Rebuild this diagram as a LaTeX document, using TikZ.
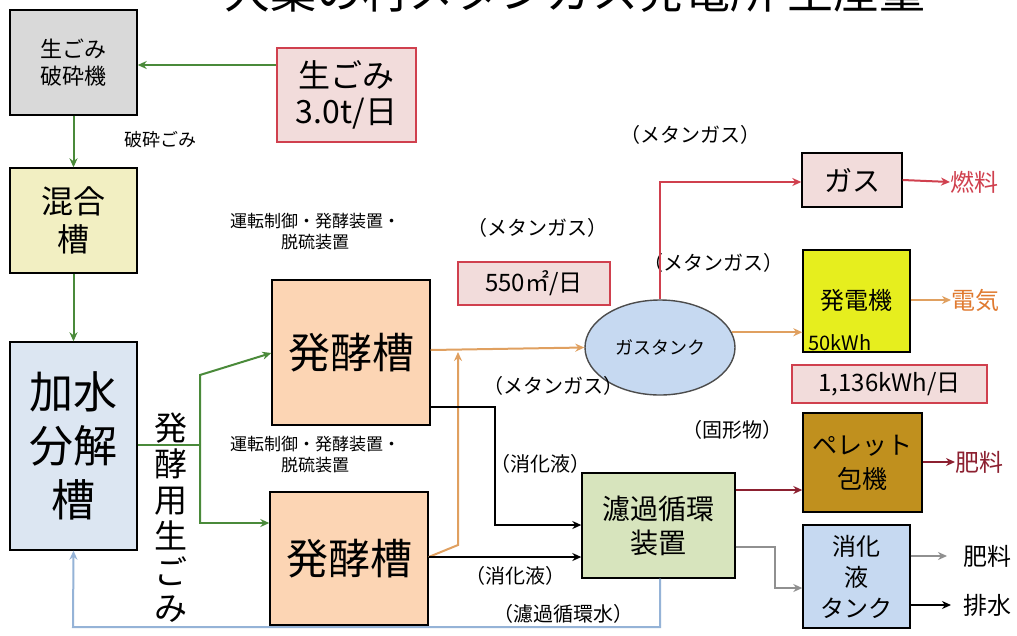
\documentclass[tikz,border=0pt]{standalone}
\usepackage{fontspec}
\setmainfont{Noto Sans CJK JP}
\usetikzlibrary{arrows.meta,shapes.geometric}
\definecolor{gline}{HTML}{4A8A3A}
\definecolor{boxgray}{HTML}{D9D9D9}
\definecolor{boxpink}{HTML}{F2DCDB}
\definecolor{redline}{HTML}{D0404E}
\definecolor{boxyel}{HTML}{F2EFC2}
\definecolor{boxblue}{HTML}{DCE6F2}
\definecolor{boxpeach}{HTML}{FCD5B4}
\definecolor{orline}{HTML}{E0A060}
\definecolor{tankblue}{HTML}{C6D9F1}
\definecolor{boxgreen}{HTML}{D7E4BD}
\definecolor{retline}{HTML}{95B3D7}
\definecolor{genyel}{HTML}{E6EE1E}
\definecolor{pelgold}{HTML}{C0901E}
\definecolor{darkred}{HTML}{8C2030}
\definecolor{grayline}{HTML}{909090}
\definecolor{orangetext}{HTML}{E07A30}
\tikzset{
  box/.style={draw=black, line width=1.4pt, inner sep=0pt, align=center},
  pinkbox/.style={draw=redline, line width=1.4pt, fill=boxpink, inner sep=0pt, align=center},
  lbl/.style={inner sep=0pt, align=center, font=\fontsize{18}{21}\selectfont},
  conn/.style={line width=2pt, -{Stealth[length=9pt,width=8pt]}},
  plain/.style={line width=2pt},
}
\begin{document}
\begin{tikzpicture}[x=1pt,y=-1pt]
\clip (0,0) rectangle (1017,635);
\fill[white] (0,0) rectangle (1017,635);
% title (cut off at top)
\node[inner sep=0pt, anchor=base, font=\fontsize{46}{50}\selectfont] (title) at (575,8) {大葉の村メタンガス発電所\ 生産量};
% boxes
\node[box, fill=boxgray, minimum width=127pt, minimum height=105pt, font=\fontsize{22}{27}\selectfont] (crusher) at (73.5,62.5) {生ごみ\\破砕機};
\node[pinkbox, minimum width=139pt, minimum height=94pt, font=\fontsize{32}{36}\selectfont] (raw) at (346.5,95) {生ごみ\\3.0t/日};
\node[box, fill=boxyel, minimum width=127pt, minimum height=105pt, font=\fontsize{32}{38}\selectfont] (mix) at (73.5,220.5) {混合\\槽};
\node[box, fill=boxblue, minimum width=127pt, minimum height=208pt, font=\fontsize{44}{54}\selectfont] (hyd) at (73.5,446) {加水\\分解\\槽};
\node[box, fill=boxpeach, minimum width=158pt, minimum height=145pt, font=\fontsize{42}{46}\selectfont] (fer1) at (351,352.5) {発酵槽};
\node[box, fill=boxpeach, minimum width=158pt, minimum height=133pt, font=\fontsize{42}{46}\selectfont] (fer2) at (349,558.5) {発酵槽};
\node[pinkbox, minimum width=152pt, minimum height=43pt, font=\fontsize{24}{28}\selectfont] (m3) at (534,283.5) {550㎡/日};
\node[ellipse, draw=black!70, line width=1.4pt, fill=tankblue, minimum width=150pt, minimum height=95pt, inner sep=0pt, font=\fontsize{18}{22}\selectfont] (tank) at (660,347.5) {ガスタンク};
\node[box, fill=boxgreen, minimum width=153pt, minimum height=105pt, font=\fontsize{28}{34}\selectfont] (filt) at (658.5,525.5) {濾過循環\\装置};
\node[box, fill=boxpink, minimum width=100pt, minimum height=54pt, font=\fontsize{28}{32}\selectfont] (gas) at (852,180) {ガス};
\node[box, fill=genyel, minimum width=107pt, minimum height=102pt] (gen) at (856.5,301) {};
\node[inner sep=0pt, font=\fontsize{24}{28}\selectfont] (gent) at (856.5,300) {発電機};
\node[inner sep=0pt, anchor=west, font=\fontsize{20}{24}\selectfont] (genk) at (808,343) {50kWh};
\node[pinkbox, minimum width=195pt, minimum height=38pt, font=\fontsize{24}{28}\selectfont] (kwh) at (889.5,384) {1,136kWh/日};
\node[box, fill=pelgold, minimum width=119pt, minimum height=99pt, font=\fontsize{25}{34}\selectfont] (pel) at (862.5,462.5) {ペレット\\包機};
\node[box, fill=tankblue, minimum width=107pt, minimum height=103pt, font=\fontsize{24}{31}\selectfont] (dtank) at (856.5,576.5) {消化\\液\\タンク};
% output labels
\node[lbl, anchor=west, text=redline, font=\fontsize{24}{28}\selectfont] (fuel) at (950,182) {燃料};
\node[lbl, anchor=west, text=orangetext, font=\fontsize{24}{28}\selectfont] (elec) at (951,300) {電気};
\node[lbl, anchor=west, text=darkred, font=\fontsize{24}{28}\selectfont] (fert1) at (955,462) {肥料};
\node[lbl, anchor=west, font=\fontsize{24}{28}\selectfont] (fert2) at (963,556) {肥料};
\node[lbl, anchor=west, font=\fontsize{24}{28}\selectfont] (drain) at (963,605) {排水};
% text labels
\node[lbl] (lcrush) at (160,140) {破砕ごみ};
\node[lbl, font=\fontsize{33}{36}\selectfont, text width=34pt] (lferm) at (171,518) {発\\酵\\用\\生\\ご\\み};
\node[lbl, font=\fontsize{17}{21}\selectfont] (lctrl1) at (315,232) {運転制御・発酵装置・\\脱硫装置};
\node[lbl, font=\fontsize{17}{21}\selectfont] (lctrl2) at (315,455) {運転制御・発酵装置・\\脱硫装置};
\node[lbl, font=\fontsize{20}{24}\selectfont] (lme1) at (537,228) {（メタンガス）};
\node[lbl, font=\fontsize{20}{24}\selectfont] (lme2) at (690,135) {（メタンガス）};
\node[lbl, font=\fontsize{20}{24}\selectfont] (lme3) at (713,263) {（メタンガス）};
\node[lbl, font=\fontsize{20}{24}\selectfont] (lme4) at (553,386) {（メタンガス）};
\node[lbl, font=\fontsize{20}{24}\selectfont] (ldig1) at (540,464) {（消化液）};
\node[lbl, font=\fontsize{20}{24}\selectfont] (ldig2) at (515,576) {（消化液）};
\node[lbl, font=\fontsize{20}{24}\selectfont] (lret) at (563,614) {（濾過循環水）};
\node[lbl, font=\fontsize{20}{24}\selectfont] (lsolid) at (732,430) {（固形物）};
% junctions
\coordinate (j0) at (200,445);
\coordinate (j1) at (200,375);
\coordinate (j2) at (200,523);
\coordinate (o1) at (458,545);
\coordinate (o2) at (458,352);
\coordinate (b1) at (495,407);
\coordinate (b2) at (495,525);
\coordinate (r1) at (660,627);
\coordinate (r2) at (73,627);
\coordinate (t1) at (660,182);
\coordinate (g1) at (775,547);
\coordinate (g2) at (775,588);
% connectors
\draw[conn, gline] (raw.west |- 0,65) -- (crusher.east |- 0,65);
\draw[conn, gline] (crusher.south) -- (mix.north);
\draw[conn, gline] (mix.south) -- (hyd.north);
\draw[plain, gline] (hyd.east |- j0) -- (j0);
\draw[conn, gline] (j2) -- (j1) -- (fer1.west |- 0,353);
\draw[conn, gline] (j1) -- (j2) -- (fer2.west |- j2);
\draw[conn, orline] (fer1.east |- 0,350) -- (tank.west);
\draw[conn, orline] (fer2.east |- 0,557) -- (o1) -- (o2);
\draw[conn, black] (fer1.east |- b1) -- (b1) -- (b2) -- (filt.west |- b2);
\draw[conn, black] (fer2.east |- 0,557) -- (filt.west |- 0,557);
\draw[conn, retline] (filt.south -| r1) -- (r1) -- (r2) -- (hyd.south);
\draw[conn, redline] (tank.north) -- (t1) -- (gas.west |- t1);
\draw[conn, orline] (tank.12) -- (gen.west |- tank.12);
\draw[conn, redline] (gas.east) -- (fuel.west);
\draw[conn, orline] (gen.east |- elec) -- (elec.west);
\draw[conn, darkred] (filt.east |- 0,490) -- (pel.west |- 0,490);
\draw[conn, darkred] (pel.east |- fert1) -- (fert1.west);
\draw[conn, grayline] (filt.east |- g1) -- (g1) -- (g2) -- (dtank.west |- g2);
\draw[conn, grayline, shorten >=16pt] (dtank.east |- fert2) -- (fert2.west);
\draw[conn, black, shorten >=12pt] (dtank.east |- drain) -- (drain.west);
\end{tikzpicture}
\end{document}
